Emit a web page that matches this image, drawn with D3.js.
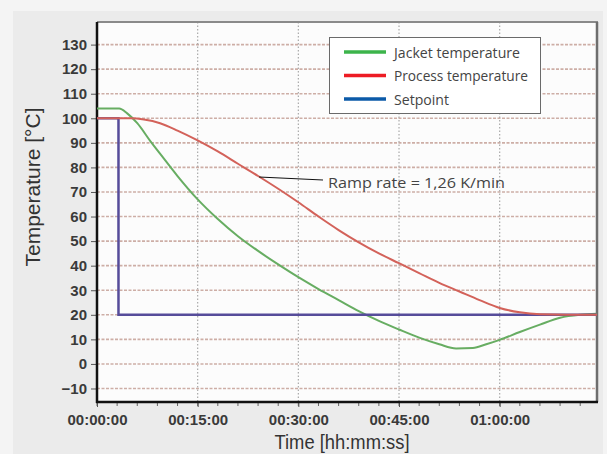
<!DOCTYPE html>
<html><head><meta charset="utf-8">
<script src="https://cdn.jsdelivr.net/npm/d3@7"></script>
<style>
html,body{margin:0;padding:0;background:#f4f4f4;}
svg{display:block;}
</style></head>
<body>
<svg id="chart" width="607" height="454"></svg>
<script>
// ---- data (time in minutes, temperature in °C) ----
const yTicks = [-10,0,10,20,30,40,50,60,70,80,90,100,110,120,130];
const xTicks = [0,15,30,45,60];
const xTickLabels = ["00:00:00","00:15:00","00:30:00","00:45:00","01:00:00"];
const seriesNames = ["Jacket temperature","Process temperature","Setpoint"];
const seriesColors = ["#3cb44b","#ed1c24","#0b5aa8"];
const lineColors = ["#67ad62","#d3625a","#564c9a"];

const jacketT = [0,3.3,4.5,6,8,10,12,15,18,21,24,27,30,33,36,39,42,45,48,51,53.5,56,58,60,63,66,69,72,74.5];
const jacketV = [104,104,102,98,90.5,83.5,76.5,67,59,52,46,40.5,35.3,30.5,26,21.5,17.5,14,10.7,8,6.3,6.5,8,9.8,13,16,18.8,20,20.4];

const processT = [0,3,5,7,9.4,12,15,18,21,24,27,30,33,36,39,42,45,48,51,54,57,60,63,66,70,74.5];
const processV = [100,100,100,99.5,98,95,91,86.5,81.5,76.5,71.3,65.8,60,54.5,49.5,45,41,37,33,29.5,26,22.8,21,20.2,20,20];

const setT = [0,3.2,3.2,74.5];
const setV = [100,100,20,20];

const annotationText = "Ramp rate = 1,26 K/min";
const annotationAt = [24, 76.5]; // point on process curve

// ---- layout ----
const svg = d3.select("#chart");
const L = 97, R = 597, T = 22, B = 402;
const x = d3.scaleLinear().domain([0,74.5]).range([L,R]);
const y = d3.scaleLinear().domain([-15.5,139.2]).range([B,T]);

// panel background
svg.append("rect").attr("x",13).attr("y",11).attr("width",590).attr("height",443).attr("fill","#ebebeb");
svg.append("rect").attr("x",L).attr("y",T).attr("width",R-L).attr("height",B-T).attr("fill","#fcfcfc");

// horizontal grid
svg.append("g").selectAll("line").data(yTicks).join("line")
  .attr("x1",L).attr("x2",R).attr("y1",d=>y(d)).attr("y2",d=>y(d))
  .attr("stroke","#cdaea6").attr("stroke-width",1.6).attr("stroke-dasharray","3,1.5");
// vertical grid
svg.append("g").selectAll("line").data(xTicks.slice(1)).join("line")
  .attr("x1",d=>x(d)).attr("x2",d=>x(d)).attr("y1",T).attr("y2",B)
  .attr("stroke","#a9a9a9").attr("stroke-width",1.2).attr("stroke-dasharray","1.5,2");

// frame
svg.append("line").attr("x1",L).attr("x2",R+1).attr("y1",T).attr("y2",T).attr("stroke","#8a8a8a").attr("stroke-width",2);
svg.append("line").attr("x1",R).attr("x2",R).attr("y1",T).attr("y2",B).attr("stroke","#6e6e6e").attr("stroke-width",2.5);

// axes
const yAxis = d3.axisLeft(y).tickValues(yTicks).tickSize(6).tickPadding(4);
const gy = svg.append("g").attr("transform",`translate(${L},0)`).call(yAxis);
gy.select(".domain").remove();
gy.selectAll(".tick line").attr("stroke","#555");
gy.selectAll(".tick text").attr("font-family","Liberation Sans, Arial, sans-serif")
  .attr("font-weight","bold").attr("font-size",15).attr("fill","#3a3a3a");

const minorTicks = d3.range(0,75,3);
svg.append("g").selectAll("line").data(minorTicks).join("line")
  .attr("x1",d=>x(d)).attr("x2",d=>x(d)).attr("y1",B).attr("y2",B+4)
  .attr("stroke","#666").attr("stroke-width",1);
const xAxis = d3.axisBottom(x).tickValues(xTicks).tickFormat((d,i)=>xTickLabels[i]).tickSize(5).tickPadding(7);
const gx = svg.append("g").attr("transform",`translate(0,${B})`).call(xAxis);
gx.select(".domain").remove();
gx.selectAll(".tick line").attr("stroke","#555");
gx.selectAll(".tick text").attr("font-family","Liberation Sans, Arial, sans-serif")
  .attr("font-weight","bold").attr("font-size",15).attr("fill","#3a3a3a");

svg.append("line").attr("x1",L).attr("x2",L).attr("y1",T).attr("y2",B+1).attr("stroke","#111").attr("stroke-width",2.5);
svg.append("line").attr("x1",L-1).attr("x2",R+1).attr("y1",B).attr("y2",B).attr("stroke","#111").attr("stroke-width",2.5);

// axis titles
svg.append("text").attr("x",342).attr("y",449).attr("text-anchor","middle")
  .attr("font-family","Liberation Sans, Arial, sans-serif").attr("font-size",20)
  .attr("textLength",135).attr("lengthAdjust","spacingAndGlyphs")
  .attr("fill","#333").text("Time [hh:mm:ss]");
svg.append("text").attr("transform","translate(40,187) rotate(-90)").attr("text-anchor","middle")
  .attr("font-family","Liberation Sans, Arial, sans-serif").attr("font-size",20)
  .attr("textLength",159).attr("lengthAdjust","spacingAndGlyphs")
  .attr("fill","#333").text("Temperature [°C]");

// lines
const line = d3.line().x(d=>x(d[0])).y(d=>y(d[1]));
const smooth = d3.line().x(d=>x(d[0])).y(d=>y(d[1])).curve(d3.curveMonotoneX);
const zip = (a,b)=>a.map((t,i)=>[t,b[i]]);

svg.append("path").datum(zip(jacketT,jacketV)).attr("d",smooth)
  .attr("fill","none").attr("stroke",lineColors[0]).attr("stroke-width",2);
svg.append("path").datum(zip(setT,setV)).attr("d",line)
  .attr("fill","none").attr("stroke",lineColors[2]).attr("stroke-width",2.5);
svg.append("path").datum(zip(processT,processV)).attr("d",smooth)
  .attr("fill","none").attr("stroke",lineColors[1]).attr("stroke-width",2);

// annotation
svg.append("line").attr("x1",x(annotationAt[0])+1).attr("y1",y(annotationAt[1])+1)
  .attr("x2",323).attr("y2",180).attr("stroke","#111").attr("stroke-width",1);
svg.append("text").attr("x",328).attr("y",188)
  .attr("font-family","Open Sans, sans-serif").attr("font-size",15)
  .attr("textLength",177).attr("lengthAdjust","spacingAndGlyphs")
  .attr("fill","#444").text(annotationText);

// legend
const lg = svg.append("g");
lg.append("rect").attr("x",329.5).attr("y",37.5).attr("width",211).attr("height",76)
  .attr("fill","#fff").attr("stroke","#6a6a6a").attr("stroke-width",1);
const legendWidths = [126,134,55];
seriesNames.forEach((n,i)=>{
  const yy = 52 + i*23.5;
  lg.append("line").attr("x1",344).attr("x2",386).attr("y1",yy).attr("y2",yy)
    .attr("stroke",seriesColors[i]).attr("stroke-width",3.5);
  lg.append("text").attr("x",394).attr("y",yy+5.5)
    .attr("font-family","Open Sans, sans-serif").attr("font-size",15)
    .attr("textLength",legendWidths[i]).attr("lengthAdjust","spacingAndGlyphs")
    .attr("fill","#444").text(n);
});
</script>
</body></html>
